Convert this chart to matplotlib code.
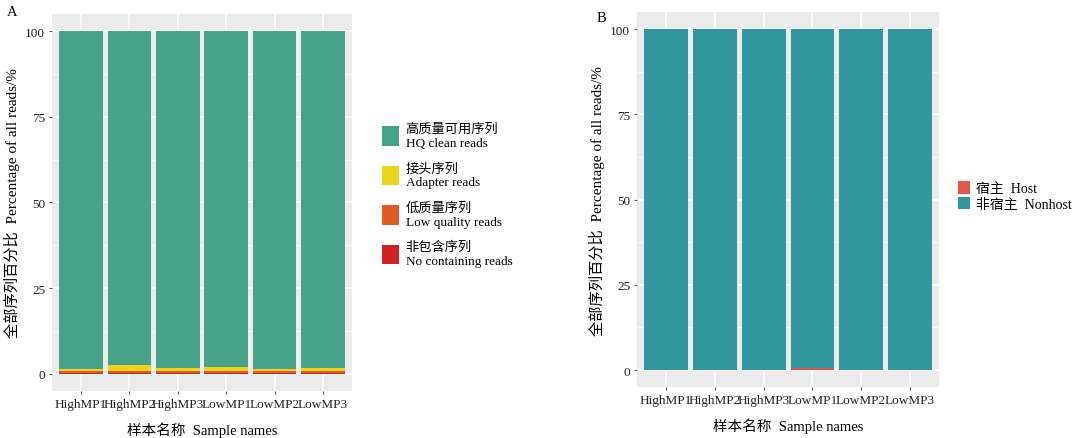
import numpy as np
import matplotlib
matplotlib.use("Agg")
import matplotlib.pyplot as plt

plt.rcParams['font.family'] = ['Liberation Serif', 'Noto Sans CJK SC']

samples = ["HighMP1", "HighMP2", "HighMP3", "LowMP1", "LowMP2", "LowMP3"]

# panel A: read composition (%), stacked bottom -> top
no_containing = np.array([0.2, 0.2, 0.2, 0.2, 0.2, 0.2])
low_quality = np.array([0.5, 0.5, 0.5, 0.5, 0.5, 0.5])
adapter = np.array([0.6, 2.0, 1.1, 1.4, 0.6, 1.1])
hq_clean = 100 - no_containing - low_quality - adapter

# panel B: host vs non-host (%)
host = np.array([0.1, 0.1, 0.15, 0.6, 0.1, 0.1])
nonhost = 100 - host

a_layers = [no_containing, low_quality, adapter, hq_clean]
a_labels = ["非包含序列\nNo containing reads", "低质量序列\nLow quality reads",
            "接头序列\nAdapter reads", "高质量可用序列\nHQ clean reads"]
a_colors = ["#CE2222", "#E15A22", "#EBD51C", "#46A288"]

b_layers = [host, nonhost]
b_labels = ["宿主  Host", "非宿主  Nonhost"]
b_colors = ["#E0564A", "#31979F"]

fig = plt.figure(figsize=(10.73, 4.39), dpi=100)
ax_a = fig.add_axes([0.0485, 0.107, 0.2796, 0.859])
ax_b = fig.add_axes([0.5937, 0.116, 0.2815, 0.854])


def draw_panel(ax, layers, colors, labels):
    x = np.arange(1, len(samples) + 1)
    bottom = np.zeros(len(samples))
    handles = []
    for vals, col, lab in zip(layers, colors, labels):
        h = ax.bar(x, vals, bottom=bottom, width=0.9, color=col,
                   edgecolor="none", label=lab, zorder=3)
        handles.append(h)
        bottom = bottom + vals
    ax.set_facecolor("#EBEBEB")
    ax.set_xlim(0.4, 6.6)
    ax.set_ylim(-5, 105)
    ax.set_xticks(x)
    ax.set_xticklabels(samples, fontsize=9.5)
    ax.set_yticks([0, 25, 50, 75, 100])
    ax.set_yticklabels(["0", "25", "50", "75", "100"], fontsize=9.5)
    ax.set_yticks([12.5, 37.5, 62.5, 87.5], minor=True)
    ax.grid(True, which="major", color="white", linewidth=1.1, zorder=0)
    ax.grid(True, which="minor", axis="y", color="white", linewidth=0.5, zorder=0)
    ax.tick_params(axis="both", which="major", length=2.5, color="#555555",
                   pad=2.5, labelcolor="#222222")
    ax.tick_params(axis="y", which="minor", length=0)
    for s in ax.spines.values():
        s.set_visible(False)
    ax.set_xlabel("样本名称  Sample names", fontsize=10.5, labelpad=8)
    ax.set_ylabel("全部序列百分比  Percentage of all reads/%", fontsize=11, labelpad=4)
    return handles


ha = draw_panel(ax_a, a_layers, a_colors, a_labels)
hb = draw_panel(ax_b, b_layers, b_colors, b_labels)

ax_a.legend(ha[::-1], a_labels[::-1], loc="center left", bbox_to_anchor=(1.06, 0.52),
            frameon=False, fontsize=9.5, handlelength=1.3, handleheight=1.9,
            labelspacing=1.0, handletextpad=0.5)
ax_b.legend(hb, b_labels, loc="center left", bbox_to_anchor=(1.02, 0.51),
            frameon=False, fontsize=10, handlelength=0.9, handleheight=1.0,
            labelspacing=0.1, handletextpad=0.4)

fig.text(0.006, 0.972, "A", fontsize=10.5, va="center")
fig.text(0.556, 0.958, "B", fontsize=10.5, va="center")

fig.savefig("out.png", dpi=100)
